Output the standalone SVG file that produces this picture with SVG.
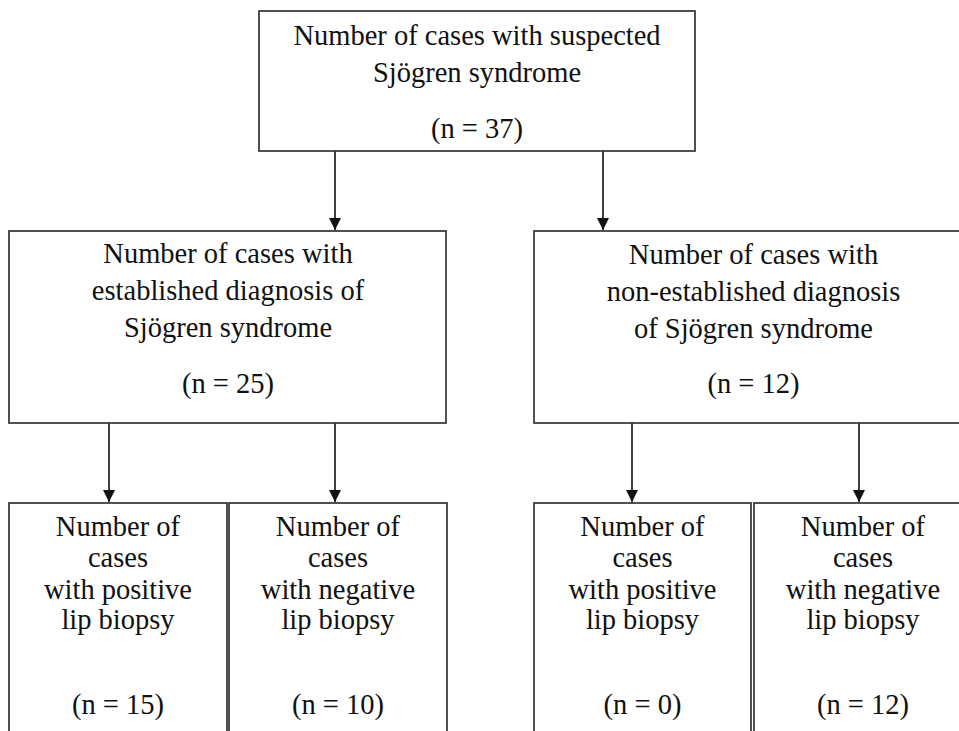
<svg xmlns="http://www.w3.org/2000/svg" width="959" height="731" viewBox="0 0 959 731">
<defs>
<style>
.box{fill:#fff;stroke:#333;stroke-width:1.7}
.t{font-family:"Liberation Serif","Times New Roman",serif;font-size:28.5px;fill:#111;text-anchor:middle}
.c{stroke:#111;stroke-width:1.6;fill:none}
</style>
<marker id="ah" markerUnits="userSpaceOnUse" markerWidth="12" markerHeight="12" viewBox="0 0 12 12" refX="12" refY="6" orient="auto">
<path d="M0,0 L12,6 L0,12 Z" fill="#111"/>
</marker>
</defs>
<rect width="959" height="731" fill="#fff"/>
<g id="connectors">
<line class="c" x1="335" y1="151" x2="335" y2="230" marker-end="url(#ah)"/>
<line class="c" x1="603" y1="151" x2="603" y2="230" marker-end="url(#ah)"/>
<line class="c" x1="109" y1="423" x2="109" y2="502" marker-end="url(#ah)"/>
<line class="c" x1="335" y1="423" x2="335" y2="502" marker-end="url(#ah)"/>
<line class="c" x1="632" y1="423" x2="632" y2="502" marker-end="url(#ah)"/>
<line class="c" x1="859" y1="423" x2="859" y2="502" marker-end="url(#ah)"/>
</g>
<g id="top">
<rect class="box" x="259" y="11" width="436" height="140"/>
<text class="t" x="477" y="45">Number of cases with suspected</text>
<text class="t" x="477" y="81.5">Sjögren syndrome</text>
<text class="t" x="477" y="138">(n = 37)</text>
</g>
<g id="established">
<rect class="box" x="9" y="231" width="437" height="192"/>
<text class="t" x="228" y="263">Number of cases with</text>
<text class="t" x="228" y="300">established diagnosis of</text>
<text class="t" x="228" y="337">Sjögren syndrome</text>
<text class="t" x="228" y="393">(n = 25)</text>
</g>
<g id="nonestablished">
<rect class="box" x="534" y="231" width="440" height="192"/>
<text class="t" x="753.5" y="264">Number of cases with</text>
<text class="t" x="753.5" y="301">non-established diagnosis</text>
<text class="t" x="753.5" y="338">of Sjögren syndrome</text>
<text class="t" x="753.5" y="393">(n = 12)</text>
</g>
<g id="est-positive">
<rect class="box" x="9" y="503" width="218" height="250"/>
<text class="t" x="118" y="536">Number of</text>
<text class="t" x="118" y="567">cases</text>
<text class="t" x="118" y="599">with positive</text>
<text class="t" x="118" y="629">lip biopsy</text>
<text class="t" x="118" y="714">(n = 15)</text>
</g>
<g id="est-negative">
<rect class="box" x="229" y="503" width="218" height="250"/>
<text class="t" x="338" y="536">Number of</text>
<text class="t" x="338" y="567">cases</text>
<text class="t" x="338" y="599">with negative</text>
<text class="t" x="338" y="629">lip biopsy</text>
<text class="t" x="338" y="714">(n = 10)</text>
</g>
<g id="non-positive">
<rect class="box" x="534" y="503" width="217" height="250"/>
<text class="t" x="642.5" y="536">Number of</text>
<text class="t" x="642.5" y="567">cases</text>
<text class="t" x="642.5" y="599">with positive</text>
<text class="t" x="642.5" y="629">lip biopsy</text>
<text class="t" x="642.5" y="714">(n = 0)</text>
</g>
<g id="non-negative">
<rect class="box" x="754" y="503" width="218" height="250"/>
<text class="t" x="863" y="536">Number of</text>
<text class="t" x="863" y="567">cases</text>
<text class="t" x="863" y="599">with negative</text>
<text class="t" x="863" y="629">lip biopsy</text>
<text class="t" x="863" y="714">(n = 12)</text>
</g>
</svg>
